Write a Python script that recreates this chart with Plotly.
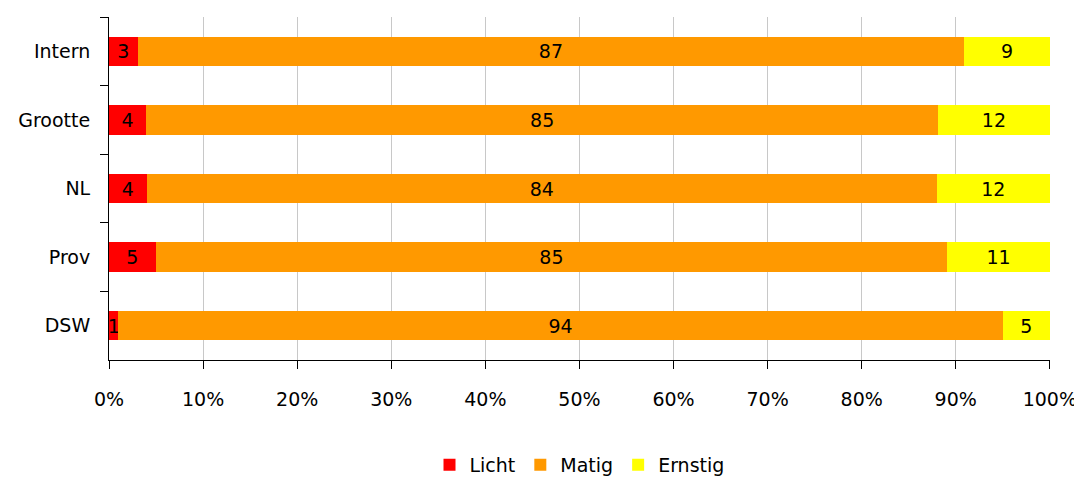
import plotly.graph_objects as go

categories = ["Intern", "Grootte", "NL", "Prov", "DSW"]
licht = [3, 4, 4, 5, 1]
matig = [87, 85, 84, 85, 94]
ernstig = [9, 12, 12, 11, 5]
tick_vals = [0, 10, 20, 30, 40, 50, 60, 70, 80, 90, 100]
tick_text = [f"{v}%" for v in tick_vals]

FONT = "'DejaVu Sans', sans-serif"
FS = 19

fig = go.Figure()
for name, vals, color in [("Licht", licht, "#ff0000"),
                          ("Matig", matig, "#ff9900"),
                          ("Ernstig", ernstig, "#ffff00")]:
    fig.add_trace(go.Bar(
        y=categories, x=vals, name=name, orientation="h",
        marker=dict(color=color, line=dict(width=0)),
        text=[str(v) for v in vals], textposition="inside",
        insidetextanchor="middle", textangle=0,
        textfont=dict(color="black", size=FS, family=FONT),
        constraintext="none", cliponaxis=False,
    ))

fig.update_layout(
    barmode="stack", barnorm="percent", bargap=0.57,
    width=1074, height=469,
    margin=dict(l=101, r=32, t=9, b=117),
    plot_bgcolor="white", paper_bgcolor="white",
    font=dict(family=FONT, size=FS, color="black"),
    uniformtext=dict(minsize=FS, mode="show"),
    legend=dict(orientation="h", x=0.5, xanchor="center", xref="paper",
                y=0.026, yanchor="middle", yref="container",
                font=dict(size=FS), itemwidth=30, traceorder="normal"),
    xaxis=dict(range=[0, 100.02], tickvals=tick_vals, ticktext=tick_text,
               showgrid=True, gridcolor="#c8c8c8", gridwidth=1,
               showline=True, linecolor="black", linewidth=1,
               ticks="outside", ticklen=8, tickcolor="black", zeroline=False,
               tickfont=dict(size=FS), automargin=False, ticklabelstandoff=14,
               ticklabeloverflow="allow"),
    yaxis=dict(autorange="reversed", showline=True, linecolor="black", linewidth=1,
               ticks="outside", ticklen=8, tickcolor="black", tickson="boundaries",
               showgrid=False, tickfont=dict(size=FS), ticklabelstandoff=14,
               automargin=False),
)

fig.write_html("out.html")
